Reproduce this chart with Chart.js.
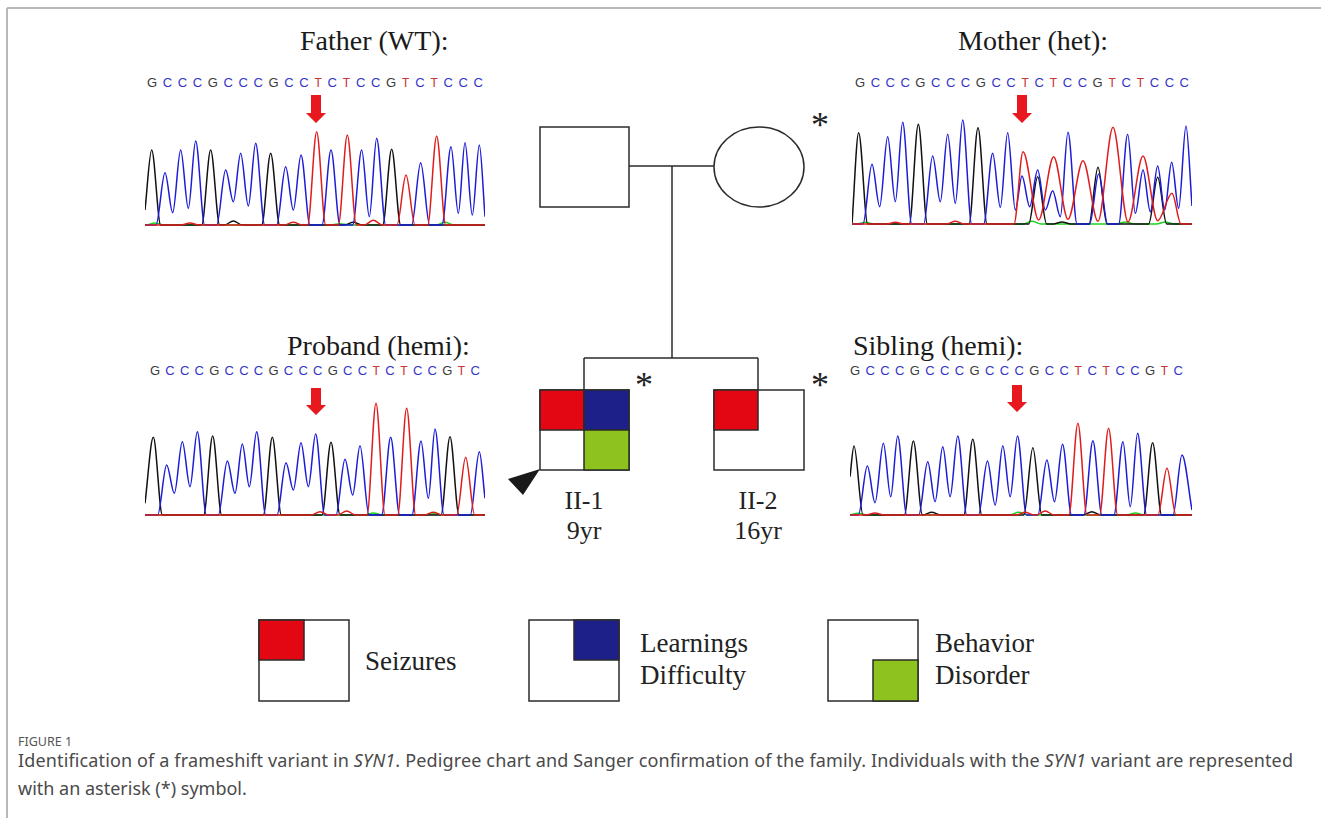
<!DOCTYPE html>
<html>
<head>
<meta charset="utf-8">
<script src="https://cdn.jsdelivr.net/npm/chart.js@4.4.0/dist/chart.umd.min.js"></script>
<style>
  body { margin: 0; background: #fff; }
  #page { position: relative; width: 1321px; height: 818px; overflow: hidden; background: #fff; }
  #page svg { position: absolute; left: 0; top: 0; }
  canvas.trace { position: absolute; }
</style>
</head>
<body>
<div id="page">
<svg width="1321" height="818" xmlns="http://www.w3.org/2000/svg">
  <!-- frame -->
  <line x1="7" y1="8" x2="1321" y2="8" stroke="#b8b8b8" stroke-width="2"/>
  <line x1="7" y1="8" x2="7" y2="818" stroke="#b8b8b8" stroke-width="2"/>

  <!-- pedigree -->
  <g stroke="#2b2b2b" stroke-width="1.5" fill="#fff">
    <rect x="540" y="127" width="89" height="80"/>
    <ellipse cx="759" cy="167" rx="45" ry="40"/>
    <line x1="629" y1="166" x2="714" y2="166"/>
    <line x1="672" y1="166" x2="672" y2="358"/>
    <line x1="584" y1="358" x2="758" y2="358"/>
    <line x1="584" y1="358" x2="584" y2="390"/>
    <line x1="758" y1="358" x2="758" y2="390"/>
    <rect x="540" y="390" width="89" height="80"/>
    <rect x="540" y="390" width="44" height="40" fill="#e30613"/>
    <rect x="584" y="390" width="45" height="40" fill="#1d2088"/>
    <rect x="584" y="430" width="45" height="40" fill="#8dc21f"/>
    <rect x="714" y="390" width="90" height="80"/>
    <rect x="714" y="390" width="44" height="40" fill="#e30613"/>
  </g>
  <polygon points="540,469 508,479 523,495" fill="#1a1a1a"/>
  <g font-family="Liberation Serif, Times New Roman, serif" fill="#222">
    <text x="820" y="137" font-size="36" text-anchor="middle">*</text>
    <text x="644" y="397" font-size="36" text-anchor="middle">*</text>
    <text x="820" y="397" font-size="36" text-anchor="middle">*</text>
    <text x="584" y="509" font-size="26" text-anchor="middle">II-1</text>
    <text x="584" y="539" font-size="26" text-anchor="middle">9yr</text>
    <text x="758" y="509" font-size="26" text-anchor="middle">II-2</text>
    <text x="758" y="539" font-size="26" text-anchor="middle">16yr</text>
  </g>

  <!-- legend -->
  <g stroke="#2b2b2b" stroke-width="1.5" fill="#fff">
    <rect x="259" y="620" width="90" height="81"/>
    <rect x="259" y="620" width="45" height="40" fill="#e30613"/>
    <rect x="529" y="620" width="90" height="81"/>
    <rect x="574" y="620" width="45" height="40" fill="#1d2088"/>
    <rect x="828" y="620" width="90" height="81"/>
    <rect x="873" y="660" width="45" height="41" fill="#8dc21f"/>
  </g>
  <g font-family="Liberation Serif, Times New Roman, serif" font-size="27" fill="#222">
    <text x="365" y="670">Seizures</text>
    <text x="640" y="652">Learnings</text>
    <text x="640" y="684">Difficulty</text>
    <text x="935" y="652">Behavior</text>
    <text x="935" y="684">Disorder</text>
  </g>

  <!-- panel titles -->
  <g font-family="Liberation Serif, Times New Roman, serif" font-size="28" fill="#1a1a1a">
    <text x="300" y="50">Father (WT):</text>
    <text x="958" y="50">Mother (het):</text>
    <text x="287" y="355">Proband (hemi):</text>
    <text x="853" y="355">Sibling (hemi):</text>
  </g>
  <g id="seqs" font-family="Liberation Sans, Arial, sans-serif" font-size="13"></g>

  <!-- red arrows at the variant -->
  <g fill="#e8191e">
    <polygon points="311,95 321,95 321,113 326,113 316,123 306,113 311,113"/>
    <polygon points="1017,95 1027,95 1027,113 1032,113 1022,123 1012,113 1017,113"/>
    <polygon points="311,388 321,388 321,405 326,405 316,415 306,405 311,405"/>
    <polygon points="1012,385 1022,385 1022,402 1027,402 1017,412 1007,402 1012,402"/>
  </g>

  <!-- caption -->
  <g font-family="Noto Sans, Open Sans, sans-serif" fill="#4a4a4a">
    <text x="18" y="746" font-size="12.5" fill="#555">FIGURE 1</text>
    <text x="18" y="767" font-size="18" textLength="1275" lengthAdjust="spacing">Identification of a frameshift variant in <tspan font-style="italic">SYN1</tspan>. Pedigree chart and Sanger confirmation of the family. Individuals with the <tspan font-style="italic">SYN1</tspan> variant are represented</text>
    <text x="18" y="795" font-size="18">with an asterisk (*) symbol.</text>
  </g>
</svg>

<canvas class="trace" id="father" width="340" height="120" style="left:145px;top:108px"></canvas>
<canvas class="trace" id="mother" width="340" height="120" style="left:852px;top:107px"></canvas>
<canvas class="trace" id="proband" width="340" height="120" style="left:145px;top:398px"></canvas>
<canvas class="trace" id="sibling" width="342" height="120" style="left:850px;top:398px"></canvas>
</div>

<script>
// base calls shown above each trace
const fatherSeq = 'GCCCGCCCGCCTCTCCGTCTCCC';
const motherSeq = 'GCCCGCCCGCCTCTCCGTCTCCC';
const probandSeq = 'GCCCGCCCGCCCGCCTCTCCGTC';
const siblingSeq = 'GCCCGCCCGCCCGCCTCTCCGTC';

// peaks are [scan, signal]; valleys are the dips between two peaks of one dye
const fatherBlack = [[35, 225], [212, 225], [280, 12], [392, 215], [640, 8], [755, 227]];
const fatherRed = [[150, 6], [460, 8], [530, 280], [622, 270], [700, 14], [798, 150], [890, 267]];
const fatherBlue = [[75, 157], [122, 225], [167, 252], [257, 165], [302, 215], [347, 245], [437, 175], [483, 210],
  [573, 225], [665, 225], [710, 260], [842, 187], [933, 235], [975, 247], [1018, 240]];
const fatherBlueValleys = [[98, 37], [145, 50], [280, 70], [325, 57], [460, 45], [688, 25], [955, 35], [997, 30]];
const fatherGreen = [[45, 6], [600, 4], [915, 8]];

const motherBlack = [[40, 274], [219, 299], [398, 289], [577, 142], [650, 6], [758, 170], [937, 140]];
const motherRed = [[150, 5], [330, 8], [533, 217], [625, 202], [713, 190], [803, 290], [893, 204], [980, 92]];
const motherRedValleys = [[580, 12], [668, 14], [758, 8], [848, 6], [937, 10]];
const motherBlue = [[80, 179], [127, 262], [172, 305], [262, 204], [307, 269], [352, 312], [442, 212], [487, 274],
  [530, 144], [577, 162], [622, 100], [668, 275], [760, 150], [847, 269], [893, 162], [937, 174], [979, 185], [1022, 294]];
const motherBlueValleys = [[103, 52], [150, 67], [285, 67], [330, 62], [465, 50], [510, 42], [553, 52], [600, 42],
  [645, 22], [870, 32], [915, 37], [958, 42], [1000, 47]];
const motherGreen = [[60, 5], [560, 8], [840, 6], [960, 6]];

const probandBlack = [[40, 233], [218, 237], [397, 233], [573, 218], [930, 235]];
const probandRed = [[540, 10], [620, 12], [708, 335], [800, 320], [880, 8], [977, 173]];
const probandBlue = [[80, 150], [127, 220], [172, 250], [262, 162], [307, 213], [350, 250], [438, 157], [483, 217],
  [527, 243], [615, 167], [660, 208], [752, 233], [843, 222], [885, 258], [1018, 190]];
const probandBlueValleys = [[103, 65], [150, 85], [285, 65], [328, 85], [460, 75], [505, 85], [638, 60], [865, 50]];
const probandGreen = [[700, 6], [880, 4]];

const siblingBlack = [[27, 207], [205, 222], [260, 8], [383, 227], [563, 202], [740, 10], [922, 217]];
const siblingRed = [[90, 6], [540, 8], [600, 12], [698, 275], [790, 260], [965, 140]];
const siblingBlue = [[67, 147], [115, 215], [158, 237], [248, 160], [293, 205], [338, 237], [427, 162], [473, 208],
  [517, 237], [605, 165], [652, 212], [743, 223], [833, 220], [877, 245], [1010, 180]];
const siblingBlueValleys = [[90, 37], [137, 55], [270, 40], [315, 55], [450, 30], [495, 55], [628, 40], [855, 25]];
const siblingGreen = [[40, 5], [520, 8], [870, 6]];

const HALF = 27; // half width of a peak foot, in scans

function tracePoints(peaks, valleys, xmin, xmax, startY, endY) {
  const marks = peaks.map(p => ({ x: p[0], y: p[1], peak: true }))
    .concat(valleys.map(v => ({ x: v[0], y: v[1], peak: false })))
    .sort((a, b) => a.x - b.x);
  const pts = [{ x: xmin, y: startY }];
  marks.forEach((m, i) => {
    const prev = i > 0 ? marks[i - 1] : null;
    if (m.peak && (!prev || prev.peak)) {
      const foot = m.x - HALF;
      if (!prev) {
        if (startY === 0 && foot > xmin) pts.push({ x: foot, y: 0 });
      } else if (prev.x + HALF >= foot) {
        pts.push({ x: (prev.x + m.x) / 2, y: 0 });
      } else {
        pts.push({ x: prev.x + HALF, y: 0 });
        pts.push({ x: foot, y: 0 });
      }
    }
    pts.push({ x: m.x, y: m.y });
  });
  const last = marks[marks.length - 1];
  if (endY === 0 && last.x + HALF < xmax) pts.push({ x: last.x + HALF, y: 0 });
  pts.push({ x: xmax, y: endY });
  return pts;
}

function drawTrace(id, xmin, xmax, channels) {
  const datasets = channels.map(c => ({
    data: tracePoints(c.peaks, c.valleys || [], xmin, xmax, c.start || 0, c.end || 0),
    borderColor: c.color,
    borderWidth: 1.5,
    pointRadius: 0,
    fill: false,
    cubicInterpolationMode: 'monotone'
  }));
  new Chart(document.getElementById(id), {
    type: 'line',
    data: { datasets: datasets },
    options: {
      responsive: false,
      animation: false,
      layout: { padding: 0 },
      plugins: { legend: { display: false }, tooltip: { enabled: false } },
      scales: {
        x: { type: 'linear', min: xmin, max: xmax, display: false },
        y: { min: -9, max: 351, display: false }
      }
    }
  });
}

const RED = '#e01c1c', BLUE = '#1c1cd8', BLACK = '#111111', GREEN = '#1fd01f';

drawTrace('father', 15, 1035, [
  { peaks: fatherRed, color: RED },
  { peaks: fatherBlue, valleys: fatherBlueValleys, color: BLUE, end: 25 },
  { peaks: fatherBlack, color: BLACK, start: 45 },
  { peaks: fatherGreen, color: GREEN }
]);
drawTrace('mother', 20, 1040, [
  { peaks: motherRed, valleys: motherRedValleys, color: RED },
  { peaks: motherBlue, valleys: motherBlueValleys, color: BLUE, end: 54 },
  { peaks: motherBlack, color: BLACK },
  { peaks: motherGreen, color: GREEN }
]);
drawTrace('proband', 15, 1035, [
  { peaks: probandRed, color: RED },
  { peaks: probandBlue, valleys: probandBlueValleys, color: BLUE, end: 50 },
  { peaks: probandBlack, color: BLACK, start: 35 },
  { peaks: probandGreen, color: GREEN }
]);
drawTrace('sibling', 15, 1040, [
  { peaks: siblingRed, color: RED },
  { peaks: siblingBlue, valleys: siblingBlueValleys, color: BLUE, end: 15 },
  { peaks: siblingBlack, color: BLACK, start: 115 },
  { peaks: siblingGreen, color: GREEN }
]);

// sequence letters, coloured per base
const baseColor = { G: '#3a3a3a', C: '#3434c8', T: '#c83a3a', A: '#2a9a2a' };
const NS = 'http://www.w3.org/2000/svg';
function drawSeq(seq, x, y, width) {
  const t = document.createElementNS(NS, 'text');
  t.setAttribute('x', x);
  t.setAttribute('y', y);
  t.setAttribute('textLength', width);
  t.setAttribute('lengthAdjust', 'spacing');
  seq.split('').forEach(b => {
    const s = document.createElementNS(NS, 'tspan');
    s.setAttribute('fill', baseColor[b]);
    if (b === 'T') s.setAttribute('font-family', 'Liberation Mono, Courier New, monospace');
    s.textContent = b;
    t.appendChild(s);
  });
  document.getElementById('seqs').appendChild(t);
}
drawSeq(fatherSeq, 147, 87, 336);
drawSeq(motherSeq, 855, 87, 334);
drawSeq(probandSeq, 150, 375, 330);
drawSeq(siblingSeq, 850, 375, 333);
</script>
</body>
</html>
